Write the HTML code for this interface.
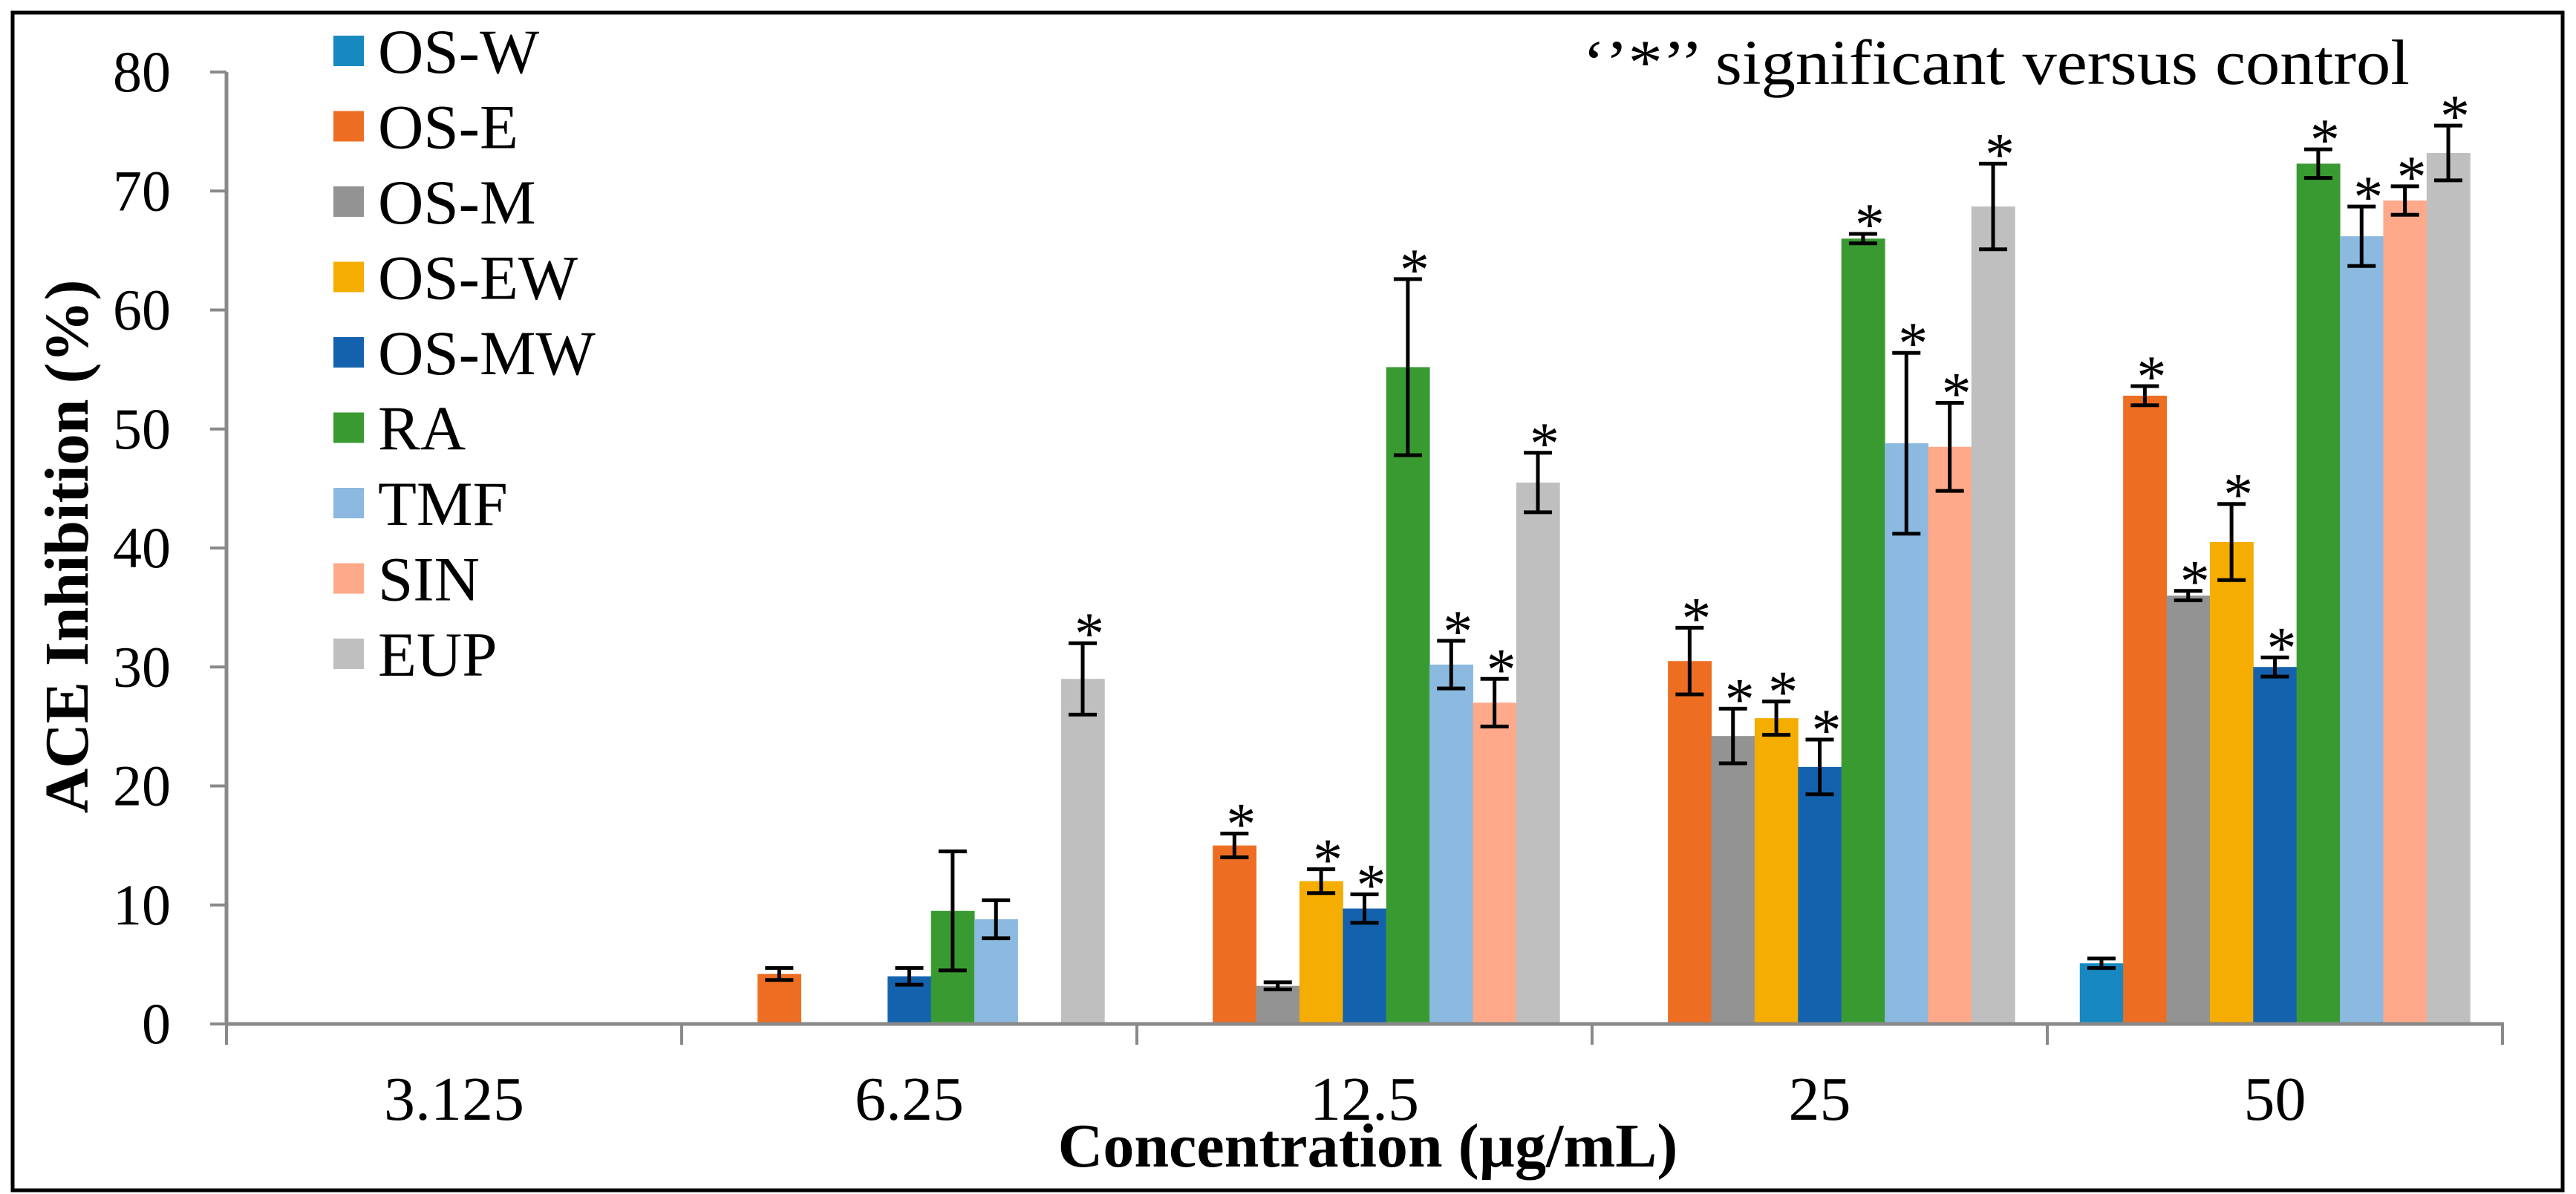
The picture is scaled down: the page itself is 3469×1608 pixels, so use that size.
<!DOCTYPE html>
<html><head><meta charset="utf-8"><style>
html,body{margin:0;padding:0;background:#fff;}
svg{display:block;font-family:"Liberation Serif",serif;}
</style></head><body>
<svg id="chart" width="3469" height="1608" viewBox="0 0 3469 1608">
<rect x="17" y="17" width="3434" height="1586" fill="#fff" stroke="#000" stroke-width="5"/>
<g id="grid"></g>
<g id="bars"></g>
<g id="errs"></g>
<g id="axes"></g>
<g id="legend"></g>
<text transform="translate(118,736) rotate(-90)" text-anchor="middle" font-size="84" font-weight="bold">ACE Inhibition (%)</text>
<text x="1842" y="1571" text-anchor="middle" font-size="84" font-weight="bold">Concentration (µg/mL)</text>
<text x="2131" y="113" font-size="86" textLength="1114" lengthAdjust="spacingAndGlyphs">‘’*’’ significant versus control</text>
</svg>
<script>
const categories = ["3.125","6.25","12.5","25","50"];
const seriesNames = ["OS-W","OS-E","OS-M","OS-EW","OS-MW","RA","TMF","SIN","EUP"];
const seriesColors = ["#1789C0","#ED6E22","#939393","#F4AD00","#1462AE","#3A9A32","#8BB9E0","#FEA98A","#BFBFBF"];
const osW  = [0,0,0,0,5.1];
const osE  = [0,4.2,15.0,30.5,52.8];
const osM  = [0,0,3.2,24.2,36.0];
const osEW = [0,0,12.0,25.7,40.5];
const osMW = [0,4.0,9.7,21.6,30.0];
const ra   = [0,9.5,55.2,66.0,72.3];
const tmf  = [0,8.8,30.2,48.8,66.2];
const sin  = [0,0,27.0,48.5,69.2];
const eup  = [0,29.0,45.5,68.7,73.2];
const errW  = [0,0,0,0,0.4];
const errE  = [0,0.5,1.0,2.8,0.8];
const errM  = [0,0,0.3,2.3,0.4];
const errEW = [0,0,1.0,1.4,3.2];
const errMW = [0,0.7,1.2,2.3,0.8];
const errRA = [0,5.0,7.4,0.4,1.2];
const errT  = [0,1.6,2.0,7.6,2.5];
const errS  = [0,0,2.0,3.7,1.2];
const errU  = [0,3.0,2.5,3.6,2.3];
const sigW  = [0,0,0,0,0];
const sigE  = [0,0,1,1,1];
const sigM  = [0,0,0,1,1];
const sigEW = [0,0,1,1,1];
const sigMW = [0,0,1,1,1];
const sigRA = [0,0,1,1,1];
const sigT  = [0,0,1,1,1];
const sigS  = [0,0,1,1,1];
const sigU  = [0,1,1,1,1];
const yTicks = [0,10,20,30,40,50,60,70,80];

const values = [osW,osE,osM,osEW,osMW,ra,tmf,sin,eup];
const errs = [errW,errE,errM,errEW,errMW,errRA,errT,errS,errU];
const sigs = [sigW,sigE,sigM,sigEW,sigMW,sigRA,sigT,sigS,sigU];

const NS="http://www.w3.org/2000/svg";
const X0=305, X1=3370, Y0=1379, Y80=97;
const groupW=(X1-X0)/categories.length;
const barW=groupW/(seriesNames.length+1.5);
function y(v){return Y0-(v/80)*(Y0-Y80);}
function xBar(c,s){return X0+c*groupW+0.75*barW+s*barW;}
function mk(tag,attrs,parent){const e=document.createElementNS(NS,tag);for(const k in attrs)e.setAttribute(k,attrs[k]);parent.appendChild(e);return e;}
const gBars=document.getElementById('bars'),gErr=document.getElementById('errs'),gAx=document.getElementById('axes'),gLeg=document.getElementById('legend');

for(let s=0;s<seriesNames.length;s++){
  for(let c=0;c<categories.length;c++){
    const v=values[s][c]; if(v<=0) continue;
    const bx=xBar(c,s);
    const r=mk('rect',{x:bx,y:y(v),width:barW+0.5,height:Y0-y(v),fill:seriesColors[s]},gBars);
    
    
    const e=errs[s][c], cx=bx+barW/2;
    if(e>0){
      const g=mk('g',{stroke:'#000','stroke-width':5},gErr);
      
      
      mk('line',{x1:cx,x2:cx,y1:y(v+e),y2:y(v-e)},g);
      mk('line',{x1:cx-19,x2:cx+19,y1:y(v+e),y2:y(v+e)},g);
      mk('line',{x1:cx-19,x2:cx+19,y1:y(v-e),y2:y(v-e)},g);
    }
    if(sigs[s][c]){
      const t=mk('text',{x:cx+9,y:y(v+e)+14,'text-anchor':'middle','font-size':80},gErr);
      
      
      t.textContent='*';
    }
  }
}
// axes
const ya=mk('line',{x1:X0,x2:X0,y1:Y80,y2:Y0,stroke:'#898989','stroke-width':5},gAx);


const xa=mk('line',{x1:X0,x2:X1+2,y1:Y0,y2:Y0,stroke:'#898989','stroke-width':5},gAx);


yTicks.forEach(t=>{
  mk('line',{x1:X0-22,x2:X0,y1:y(t),y2:y(t),stroke:'#898989','stroke-width':4},gAx);
  const tx=mk('text',{x:230,y:y(t)+26,'text-anchor':'end','font-size':78},gAx);
  
  
  tx.textContent=t;
});
for(let c=0;c<=categories.length;c++){
  const gx=X0+c*groupW;
  mk('line',{x1:gx,x2:gx,y1:Y0,y2:1407,stroke:'#898989','stroke-width':4},gAx);
}
categories.forEach((cat,c)=>{
  const tx=mk('text',{x:X0+(c+0.5)*groupW,y:1508,'text-anchor':'middle','font-size':84},gAx);
  
  
  tx.textContent=cat;
});
// legend
seriesNames.forEach((n,i)=>{
  const cy=69+i*101.5;
  const g=mk('g',{},gLeg);
  
  
  mk('rect',{x:449,y:cy-21,width:41,height:41,fill:seriesColors[i]},g);
  const t=mk('text',{x:509,y:cy+29,'font-size':85},g);
  t.textContent=n;
});
</script>
</body></html>
